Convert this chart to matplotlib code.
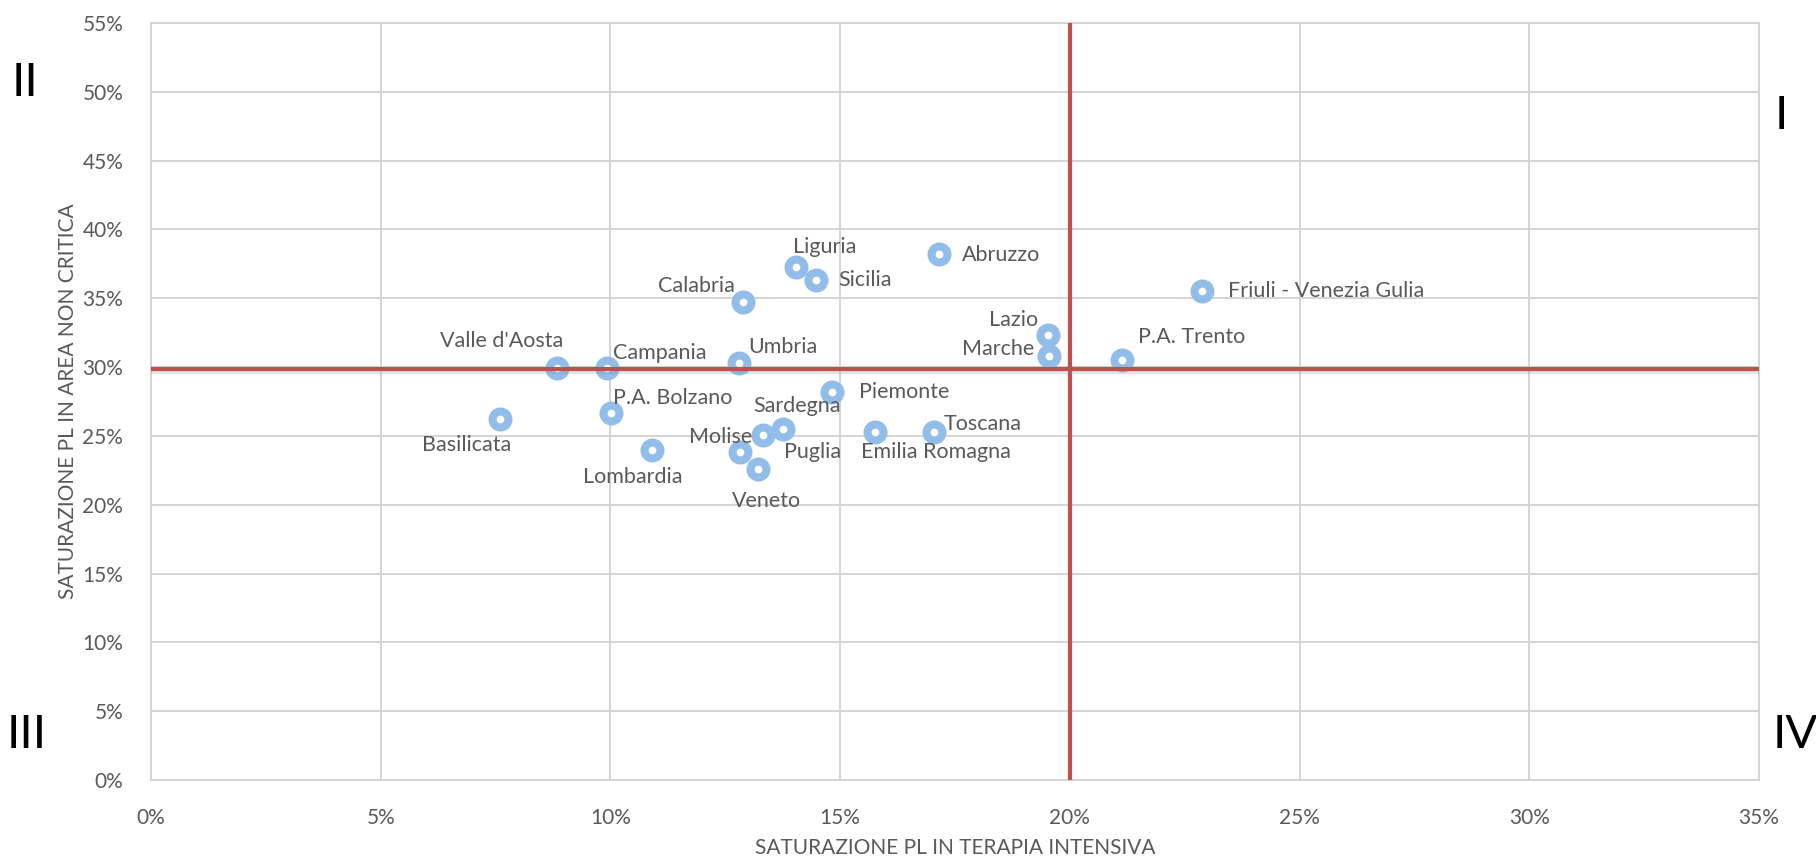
import matplotlib.pyplot as plt
import matplotlib.patheffects as pe
from matplotlib.ticker import MultipleLocator, PercentFormatter

# Saturazione posti letto: terapia intensiva (x) vs area non critica (y)
regions = ['Basilicata', "Valle d'Aosta", 'Campania', 'P.A. Bolzano', 'Lombardia',
           'Calabria', 'Umbria', 'Liguria', 'Sicilia', 'Sardegna', 'Molise', 'Puglia',
           'Veneto', 'Piemonte', 'Emilia Romagna', 'Toscana', 'Abruzzo', 'Lazio',
           'Marche', 'P.A. Trento', 'Friuli - Venezia Gulia']
ti_sat = [7.60, 8.84, 9.93, 10.01, 10.91, 12.89, 12.80, 14.03, 14.48, 13.75, 13.33,
          12.82, 13.22, 14.82, 15.76, 17.04, 17.15, 19.52, 19.55, 21.14, 22.87]
anc_sat = [26.2, 29.9, 29.9, 26.7, 24.0, 34.7, 30.3, 37.3, 36.3, 25.5, 25.1,
           23.8, 22.6, 28.2, 25.3, 25.3, 38.2, 32.3, 30.8, 30.5, 35.5]
ti_threshold = 20.0
anc_threshold = 29.85

# label offsets in pixels (dx, dy), tuned by eye
label_offsets = {
    'Basilicata': (-34, -26), "Valle d'Aosta": (-56, 27), 'Campania': (53, 15),
    'P.A. Bolzano': (62, 15), 'Lombardia': (-19, -27), 'Calabria': (-47, 16),
    'Umbria': (44, 16), 'Liguria': (29, 20), 'Sicilia': (49, 0), 'Sardegna': (14, 23),
    'Molise': (-43, -2), 'Puglia': (73, 0), 'Veneto': (8, -32), 'Piemonte': (72, 0),
    'Emilia Romagna': (61, -20), 'Toscana': (49, 8), 'Abruzzo': (62, -1),
    'Lazio': (-34, 15), 'Marche': (-51, 7), 'P.A. Trento': (69, 23),
    'Friuli - Venezia Gulia': (124, 0),
}

plt.rcParams['font.family'] = ['Lato', 'DejaVu Sans']
grey = '#595959'

fig = plt.figure(figsize=(18.16, 8.58), dpi=100)
ax = fig.add_axes([151/1816, 1 - 780/858, (1759 - 151)/1816, (780 - 23)/858])

ax.set_xlim(0, 35)
ax.set_ylim(0, 55)
ax.xaxis.set_major_locator(MultipleLocator(5))
ax.yaxis.set_major_locator(MultipleLocator(5))
ax.xaxis.set_major_formatter(PercentFormatter(decimals=0))
ax.yaxis.set_major_formatter(PercentFormatter(decimals=0))
ax.grid(True, color='#D4D4D4', linewidth=1.4)
ax.set_axisbelow(True)
for s in ax.spines.values():
    s.set_color('#D4D4D4')
    s.set_linewidth(1.4)
ax.tick_params(length=0, labelsize=15, labelcolor=grey)
ax.tick_params(axis='x', pad=20)
ax.tick_params(axis='y', pad=20)

ax.plot(ti_sat, anc_sat, linestyle='none', marker='o', ms=11.5, mew=5.8,
        mfc='white', mec='#92BDE8', zorder=3)

shadow = [pe.SimpleLineShadow(offset=(0, -2), shadow_color='#888888', alpha=0.22),
          pe.Normal()]
ax.axvline(ti_threshold, color='#C0504D', lw=3, zorder=4, path_effects=shadow)
ax.axhline(anc_threshold, color='#C0504D', lw=3, zorder=4, path_effects=shadow)

for name, x, y in zip(regions, ti_sat, anc_sat):
    dx, dy = label_offsets[name]
    ax.annotate(name, (x, y), xytext=(dx, dy), textcoords='offset pixels',
                ha='center', va='center', fontsize=15.5, color=grey, zorder=5)

ax.set_xlabel('SATURAZIONE PL IN TERAPIA INTENSIVA', fontsize=15, color=grey, labelpad=7)
ax.set_ylabel('SATURAZIONE PL IN AREA NON CRITICA', fontsize=15, color=grey, labelpad=3)

numeral_style = dict(fontsize=34, color='black', ha='center', va='center')
fig.text(25/1816, 1 - 83/858, 'II', **numeral_style)
fig.text(1781/1816, 1 - 116/858, 'I', **numeral_style)
fig.text(27/1816, 1 - 735/858, 'III', **numeral_style)
fig.text(1795/1816, 1 - 735/858, 'IV', **numeral_style)

fig.savefig('out.png', dpi=100)
